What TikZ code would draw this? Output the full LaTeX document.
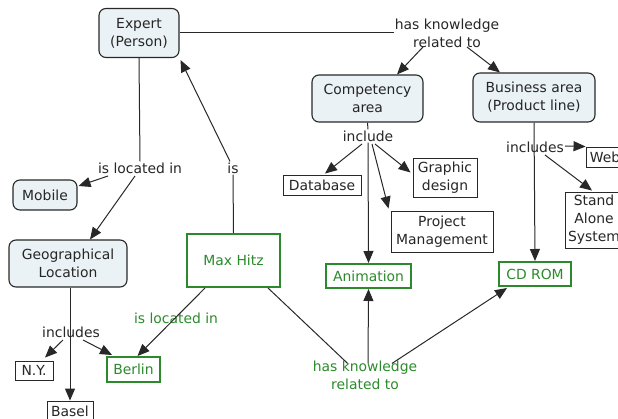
\documentclass[tikz,border=0pt]{standalone}
\usepackage{fontspec}
\setmainfont{DejaVu Sans}
\usetikzlibrary{arrows.meta,calc}
\definecolor{linegray}{RGB}{40,40,40}
\definecolor{conceptfill}{RGB}{234,242,245}
\definecolor{mapgreen}{RGB}{44,138,44}
\tikzset{
  concept/.style={draw=linegray, line width=1.1pt, fill=conceptfill, rounded corners=7pt,
    align=center, inner sep=0pt, font=\mapfont, text=black!85},
  item/.style={draw=linegray, line width=0.9pt, fill=white, align=center, inner sep=0pt,
    font=\mapfont, text=black!85},
  greenitem/.style={draw=mapgreen, line width=2pt, fill=white, align=center, inner sep=0pt,
    font=\mapfont, text=mapgreen},
  linklabel/.style={align=center, inner sep=1pt, font=\mapfont, text=black!85},
  greenlabel/.style={linklabel, text=mapgreen},
  link/.style={draw=linegray, line width=1pt},
  arr/.style={link, -{Triangle[length=12pt,width=10pt]}}
}
\newcommand{\mapfont}{\fontsize{13.9}{18}\selectfont}
\begin{document}
\begin{tikzpicture}[x=1pt,y=-1pt]
\useasboundingbox (0,0) rectangle (618,419);

% concepts
\node[concept, minimum width=80pt, minimum height=49pt] (expert) at (139,33) {Expert\\(Person)};
\node[concept, minimum width=111pt, minimum height=47pt] (comp) at (367.5,98.5) {Competency\\area};
\node[concept, minimum width=122pt, minimum height=49pt] (bus) at (534,97.5) {Business area\\(Product line)};
\node[concept, minimum width=64pt, minimum height=30pt] (mobile) at (45,195) {Mobile};
\node[concept, minimum width=118pt, minimum height=47pt] (geo) at (68,263.5) {Geographical\\Location};

% plain items
\node[item, minimum width=78pt, minimum height=20pt] (db) at (322,185) {Database};
\node[item, minimum width=64pt, minimum height=39pt] (gd) at (445,177.5) {Graphic\\design};
\node[item, minimum width=102pt, minimum height=41pt] (pm) at (442,231.5) {Project\\Management};
\node[item, minimum width=38pt, minimum height=20pt] (web) at (605,157) {Web};
\node[item, minimum width=58pt, minimum height=56pt] (stand) at (594,220) {Stand\\Alone\\System};
\node[item, minimum width=38pt, minimum height=19pt] (ny) at (34,370.5) {N.Y.};
\node[item, minimum width=46pt, minimum height=20pt] (basel) at (70,411) {Basel};

% green items
\node[greenitem, minimum width=85pt, minimum height=24pt] (anim) at (368.5,276) {Animation};
\node[greenitem, minimum width=72pt, minimum height=24pt] (cdrom) at (535,274) {CD ROM};
\node[greenitem, minimum width=53pt, minimum height=25pt] (berlin) at (133.5,369.5) {Berlin};
\node[greenitem, minimum width=93pt, minimum height=53pt] (max) at (233.5,260.5) {Max Hitz};

% link labels
\node[linklabel] (hk1) at (447,33) {has knowledge\\related to};
\node[linklabel] (incl) at (368,136) {include};
\node[linklabel] (incs) at (535,147) {includes};
\node[linklabel] (loc1) at (140,168) {is located in};
\node[linklabel] (is) at (233,168) {is};
\node[linklabel] (incg) at (71,332) {includes};
\node[greenlabel] (loc2) at (176,318) {is located in};
\node[greenlabel] (hk2) at (365,375) {has knowledge\\related to};

% expert -> competency / business
\draw[link] (expert.east) -- (hk1.west);
\draw[arr] ($(hk1)+(-24,14)$) -- ($(comp.north)+(29.5,0)$);
\draw[arr] ($(hk1)+(20,14)$) -- ($(bus.north)+(-34,0)$);

% competency area
\draw[link] (comp.south) -- (incl.north);
\draw[arr] ($(incl)+(-6,8)$) -- ($(db.north)+(3,-1)$);
\draw[arr] ($(incl)+(7,8)$) -- ($(gd.west)+(-2,-5)$);
\draw[arr] ($(incl)+(4,8)$) -- ($(pm.north west)+(-2,-2)$);
\draw[arr] (incl.south) -- (anim.north);

% business area
\draw[arr] (bus.south) -- (cdrom.north);
\draw[arr] ($(incs.east)+(0,-1)$) -- ($(web.north west)+(0,0)$);
\draw[arr] ($(incs)+(10,8)$) -- ($(stand.north)+(-2,-1)$);

% expert location
\draw[link] (expert.south) -- (loc1.north);
\draw[arr] ($(loc1)+(-32,8)$) -- ($(mobile.east)+(1,-9)$);
\draw[arr] ($(loc1)+(-5,8)$) -- ($(geo.north)+(22,0)$);

% geographical location
\draw[arr] (basel.north |- geo.south) -- (basel.north);
\draw[arr] ($(incg)+(-8,8)$) -- ($(ny.north)+(11,-3)$);
\draw[arr] ($(incg)+(12,8)$) -- ($(berlin.north west)+(6,-1)$);

% Max Hitz
\draw[arr] ($(is.north)+(-3,0)$) -- ($(expert.south east)+(1,2)$);
\draw[link] (is.south) -- (max.north);
\draw[arr] ($(max.south west)+(19,0)$) -- ($(berlin.north)+(4,0)$);
\draw[link] ($(max.south east)+(-13,0)$) -- ($(hk2.north west)+(36,4)$);
\draw[arr] ($(hk2.north)+(3,4)$) -- (anim.south);
\draw[arr] ($(hk2.north)+(27,4)$) -- ($(cdrom.south west)+(9,1)$);
\end{tikzpicture}
\end{document}
